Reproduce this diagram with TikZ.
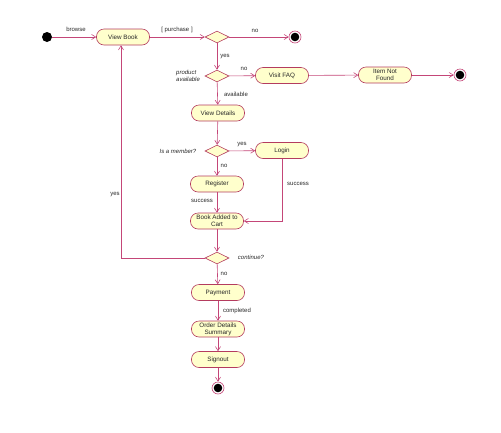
\documentclass[tikz,border=0pt]{standalone}
\usepackage{fontspec}
\setmainfont{Liberation Sans}
\usetikzlibrary{shapes.geometric,arrows.meta}
\definecolor{lnc}{RGB}{196,70,120}
\definecolor{bdc}{RGB}{180,60,95}
\definecolor{fillc}{RGB}{255,255,204}
\definecolor{txc}{RGB}{40,40,40}
\tikzset{
  act/.style={draw=bdc, fill=fillc, rounded corners=7.5pt, minimum width=53pt, minimum height=16pt, inner sep=1pt, align=center, font=\fontsize{6.3}{7}\selectfont, text=txc, line width=0.6pt},
  dec/.style={draw=bdc, fill=fillc, diamond, minimum width=24pt, minimum height=12pt, inner sep=0pt, line width=0.6pt},
  startn/.style={circle, fill=black, minimum size=10pt, inner sep=0pt},
  endn/.style={circle, draw=lnc, fill=white, minimum size=12pt, inner sep=0pt, line width=0.6pt, path picture={\fill[black] (path picture bounding box.center) circle (4.3pt);}},
  flow/.style={draw=lnc, line width=0.6pt, -{Straight Barb[length=4pt,width=5pt]}},
  lbl/.style={font=\fontsize{6}{6.8}\selectfont, text=txc, inner sep=0pt, align=center},
  ilbl/.style={lbl, font=\fontsize{6}{6.8}\selectfont\itshape}
}
\begin{document}
\begin{tikzpicture}[x=1pt,y=-1pt]
\useasboundingbox (0,0) rectangle (501,432);
% nodes
\node[startn] (s) at (47,37) {};
\node[act] (vb) at (123,37) {View Book};
\node[dec] (d1) at (217,37) {};
\node[endn] (e1) at (295,37) {};
\node[dec] (d2) at (217,76) {};
\node[act] (faq) at (282,75.5) {Visit FAQ};
\node[act] (inf) at (385,75) {Item Not\\Found};
\node[endn] (e2) at (460,75) {};
\node[act] (vd) at (218,113) {View Details};
\node[dec] (d3) at (217,151) {};
\node[act] (login) at (282,150.5) {Login};
\node[act] (reg) at (217,184) {Register};
\node[act] (bac) at (217,221) {Book Added to\\Cart};
\node[dec] (d4) at (217,258) {};
\node[act] (pay) at (218,292.5) {Payment};
\node[act] (ods) at (218,329) {Order Details\\Summary};
\node[act] (so) at (218,359.5) {Signout};
\node[endn] (e3) at (218,388) {};
\coordinate (lp) at (121,258);
% labels
\node[lbl] (lbrowse) at (76,29) {browse};
\node[lbl] (lpurch) at (177,30) {[ purchase ]};
\node[lbl] (lno1) at (255,31) {no};
\node[lbl] (lyes1) at (225,57) {yes};
\node[ilbl, align=left, anchor=west] (lprod) at (176,75.5) {product\\available};
\node[lbl] (lno2) at (244,69) {no};
\node[lbl] (lavail) at (236,94) {available};
\node[ilbl] (lmem) at (178,151) {Is a member?};
\node[lbl] (lyes2) at (242,145) {yes};
\node[lbl] (lno3) at (224,166) {no};
\node[lbl] (lsucc1) at (202,201) {success};
\node[lbl] (lsucc2) at (298,184) {success};
\node[ilbl] (lcont) at (251,257) {continue?};
\node[lbl] (lyes3) at (115,195) {yes};
\node[lbl] (lno4) at (224,274) {no};
\node[lbl] (lcomp) at (237,311) {completed};
% connectors
\draw[flow] (s) -- (vb);
\draw[flow] (vb) -- (d1);
\draw[flow] (d1) -- (e1);
\draw[flow] (d1) -- (d2);
\draw[flow] (d2) -- (faq);
\draw[flow] (faq) -- (inf);
\draw[flow] (inf) -- (e2);
\draw[flow] (d2) -- (vd);
\draw[flow] (vd) -- (d3);
\draw[flow] (d3) -- (login);
\draw[flow] (d3) -- (reg);
\draw[flow] (reg) -- (bac);
\draw[flow] (login) |- (bac);
\draw[flow] (bac) -- (d4);
\draw[flow] (d4) -- (lp) -- (vb.south -| lp);
\draw[flow] (d4) -- (pay);
\draw[flow] (pay) -- (ods);
\draw[flow] (ods) -- (so);
\draw[flow] (so) -- (e3);
\end{tikzpicture}
\end{document}
